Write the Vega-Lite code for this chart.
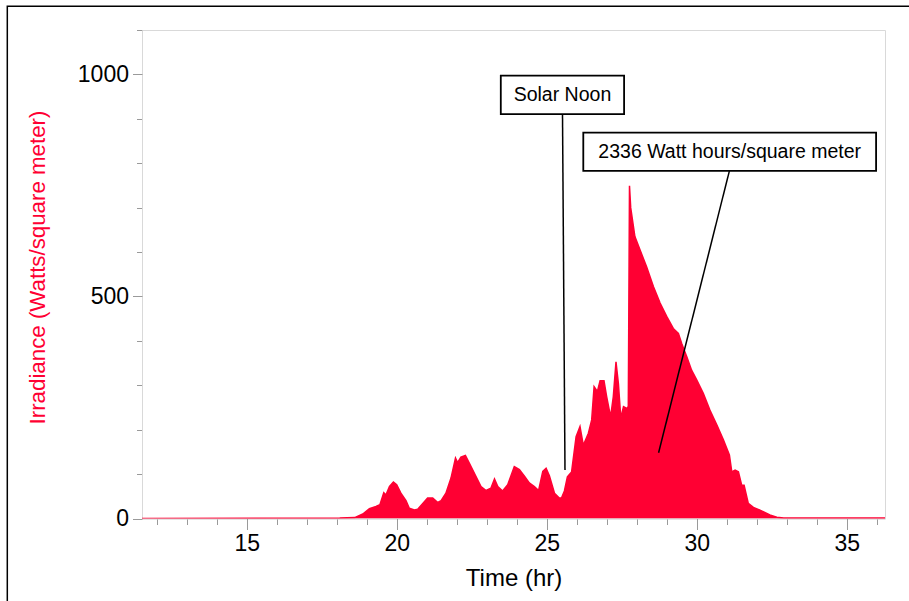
{
  "$schema": "https://vega.github.io/schema/vega-lite/v6.json",
  "width": 743,
  "height": 488.5,
  "autosize": "none",
  "padding": {"left": 142, "top": 30, "right": 24, "bottom": 82.5},
  "background": "white",
  "config": {
    "font": "Liberation Sans",
    "view": {"stroke": "#d9d9d9", "strokeWidth": 1},
    "axis": {"grid": false, "labelFlush": false}
  },
  "resolve": {"axis": {"x": "independent", "y": "independent"}},
  "datasets": {
    "irr": [
      {"time": 11.4, "irr": 0}, {"time": 18.1, "irr": 1}, {"time": 18.6, "irr": 2},
      {"time": 18.87, "irr": 10}, {"time": 19.09, "irr": 22}, {"time": 19.31, "irr": 27},
      {"time": 19.44, "irr": 31}, {"time": 19.57, "irr": 58}, {"time": 19.64, "irr": 53},
      {"time": 19.76, "irr": 72}, {"time": 19.89, "irr": 82}, {"time": 20.0, "irr": 76},
      {"time": 20.14, "irr": 57}, {"time": 20.31, "irr": 40}, {"time": 20.42, "irr": 23},
      {"time": 20.59, "irr": 19}, {"time": 20.7, "irr": 21}, {"time": 20.87, "irr": 34},
      {"time": 21.03, "irr": 46}, {"time": 21.2, "irr": 46}, {"time": 21.37, "irr": 36},
      {"time": 21.48, "irr": 40}, {"time": 21.64, "irr": 57}, {"time": 21.81, "irr": 91},
      {"time": 21.96, "irr": 136}, {"time": 22.03, "irr": 126}, {"time": 22.14, "irr": 138},
      {"time": 22.29, "irr": 142}, {"time": 22.42, "irr": 125}, {"time": 22.64, "irr": 95},
      {"time": 22.81, "irr": 72}, {"time": 22.98, "irr": 63}, {"time": 23.14, "irr": 68},
      {"time": 23.26, "irr": 89}, {"time": 23.37, "irr": 72}, {"time": 23.53, "irr": 62},
      {"time": 23.7, "irr": 76}, {"time": 23.92, "irr": 117}, {"time": 24.09, "irr": 110},
      {"time": 24.26, "irr": 95}, {"time": 24.42, "irr": 80}, {"time": 24.59, "irr": 72},
      {"time": 24.73, "irr": 63}, {"time": 24.87, "irr": 106}, {"time": 24.98, "irr": 113},
      {"time": 25.09, "irr": 96}, {"time": 25.26, "irr": 57}, {"time": 25.42, "irr": 46},
      {"time": 25.5, "irr": 47}, {"time": 25.59, "irr": 62}, {"time": 25.69, "irr": 94},
      {"time": 25.83, "irr": 105}, {"time": 25.98, "irr": 184}, {"time": 26.11, "irr": 207},
      {"time": 26.22, "irr": 165}, {"time": 26.39, "irr": 192}, {"time": 26.5, "irr": 222},
      {"time": 26.58, "irr": 297}, {"time": 26.69, "irr": 286}, {"time": 26.78, "irr": 310},
      {"time": 26.91, "irr": 310}, {"time": 27.0, "irr": 274}, {"time": 27.13, "irr": 229},
      {"time": 27.22, "irr": 274}, {"time": 27.31, "irr": 353}, {"time": 27.39, "irr": 304},
      {"time": 27.47, "irr": 226}, {"time": 27.56, "irr": 252}, {"time": 27.67, "irr": 248},
      {"time": 27.72, "irr": 252}, {"time": 27.76, "irr": 749}, {"time": 27.8, "irr": 700},
      {"time": 27.94, "irr": 635}, {"time": 28.11, "irr": 605}, {"time": 28.33, "irr": 567},
      {"time": 28.56, "irr": 522}, {"time": 28.78, "irr": 485}, {"time": 29.0, "irr": 455},
      {"time": 29.22, "irr": 428}, {"time": 29.39, "irr": 417}, {"time": 29.5, "irr": 394},
      {"time": 29.67, "irr": 364}, {"time": 29.83, "irr": 334}, {"time": 30.0, "irr": 312},
      {"time": 30.22, "irr": 282}, {"time": 30.44, "irr": 244}, {"time": 30.67, "irr": 211},
      {"time": 30.89, "irr": 177}, {"time": 31.09, "irr": 143}, {"time": 31.17, "irr": 105},
      {"time": 31.28, "irr": 109}, {"time": 31.39, "irr": 105}, {"time": 31.5, "irr": 75},
      {"time": 31.58, "irr": 75}, {"time": 31.72, "irr": 34}, {"time": 31.89, "irr": 25},
      {"time": 32.11, "irr": 19}, {"time": 32.44, "irr": 8}, {"time": 32.67, "irr": 3},
      {"time": 32.9, "irr": 1}, {"time": 36.4, "irr": 1}
    ],
    "leaders": [
      {"x1": 25.527, "y1": 910, "x2": 25.61, "y2": 109},
      {"x1": 31.09, "y1": 782.7, "x2": 28.73, "y2": 148}
    ],
    "boxes": [
      {"label": "Solar Noon", "x1": 23.47, "x2": 27.58, "y1": 910.4, "y2": 997.3, "xc": 25.525, "yc": 953.8},
      {"label": "2336 Watt hours/square meter", "x1": 26.22, "x2": 35.98, "y1": 782.7, "y2": 869, "xc": 31.1, "yc": 825.8}
    ],
    "frame": [{"x1": 7.02, "x2": 37.8, "y1": 1153.4, "y2": -230}]
  },
  "layer": [
    {
      "data": {"name": "irr"},
      "mark": {"type": "area", "color": "#ff0033", "opacity": 1, "fillOpacity": 1, "clip": true, "line": {"color": "#ff0033", "strokeWidth": 1.5}},
      "encoding": {
        "x": {
          "field": "time", "type": "quantitative",
          "scale": {"domain": [11.51, 36.277], "nice": false, "zero": false},
          "axis": {
            "orient": "bottom",
            "title": null,
            "values": [12,13,14,16,17,18,19,21,22,23,24,26,27,28,29,31,32,33,34,36],
            "labels": false,
            "tickSize": 6,
            "tickColor": "#9a9a9a",
            "domainColor": "#d9d9d9"
          }
        },
        "y": {
          "field": "irr", "type": "quantitative",
          "scale": {"domain": [0, 1100], "nice": false},
          "axis": {
            "orient": "left",
            "title": null,
            "values": [100,200,300,400,600,700,800,900,1100],
            "labels": false,
            "tickSize": 5.5,
            "tickColor": "#9a9a9a",
            "domainColor": "#d9d9d9"
          }
        }
      }
    },
    {
      "data": {"name": "frame"},
      "mark": {"type": "rect", "filled": false, "fillOpacity": 0, "stroke": "black", "strokeWidth": 1.5, "clip": false},
      "encoding": {
        "x": {
          "field": "x1", "type": "quantitative",
          "scale": {"domain": [11.51, 36.277], "nice": false, "zero": false},
          "axis": {
            "orient": "bottom",
            "title": "Time (hr)",
            "values": [15, 20, 25, 30, 35],
            "domain": false,
            "tickSize": 11,
            "tickColor": "#9a9a9a",
            "labelFontSize": 23,
            "labelColor": "black",
            "labelPadding": 3,
            "labelOverlap": false,
            "titleFontSize": 24,
            "titleFontWeight": "normal",
            "titleColor": "black",
            "titleBaseline": "alphabetic",
            "titleY": 66.5
          }
        },
        "x2": {"field": "x2"},
        "y": {
          "field": "y1", "type": "quantitative",
          "scale": {"domain": [0, 1100], "nice": false},
          "axis": {
            "orient": "left",
            "title": "Irradiance (Watts/square meter)",
            "values": [0, 500, 1000],
            "format": "d",
            "domain": false,
            "tickSize": 9.5,
            "tickColor": "#9a9a9a",
            "labelFontSize": 23,
            "labelColor": "black",
            "labelPadding": 4,
            "labelOverlap": false,
            "titleFontSize": 22.3,
            "titleFontWeight": "normal",
            "titleColor": "#ff0033",
            "titleAngle": 270,
            "titleBaseline": "alphabetic",
            "titleAlign": "center",
            "titleX": -97.5,
            "titleY": 237
          }
        },
        "y2": {"field": "y2"}
      }
    },
    {
      "data": {"name": "leaders"},
      "mark": {"type": "rule", "color": "black", "strokeWidth": 1.5},
      "encoding": {
        "x": {"field": "x1", "type": "quantitative", "scale": {"domain": [11.51, 36.277], "nice": false, "zero": false}, "axis": null},
        "x2": {"field": "x2"},
        "y": {"field": "y1", "type": "quantitative", "scale": {"domain": [0, 1100], "nice": false}, "axis": null},
        "y2": {"field": "y2"}
      }
    },
    {
      "data": {"name": "boxes"},
      "mark": {"type": "rect", "fill": "white", "stroke": "black", "strokeWidth": 1.8},
      "encoding": {
        "x": {"field": "x1", "type": "quantitative", "scale": {"domain": [11.51, 36.277], "nice": false, "zero": false}, "axis": null},
        "x2": {"field": "x2"},
        "y": {"field": "y1", "type": "quantitative", "scale": {"domain": [0, 1100], "nice": false}, "axis": null},
        "y2": {"field": "y2"}
      }
    },
    {
      "data": {"name": "boxes"},
      "mark": {"type": "text", "fontSize": 19.5, "color": "black", "align": "center", "baseline": "middle", "font": "Liberation Sans"},
      "encoding": {
        "x": {"field": "xc", "type": "quantitative", "scale": {"domain": [11.51, 36.277], "nice": false, "zero": false}, "axis": null},
        "y": {"field": "yc", "type": "quantitative", "scale": {"domain": [0, 1100], "nice": false}, "axis": null},
        "text": {"field": "label"}
      }
    }
  ]
}
